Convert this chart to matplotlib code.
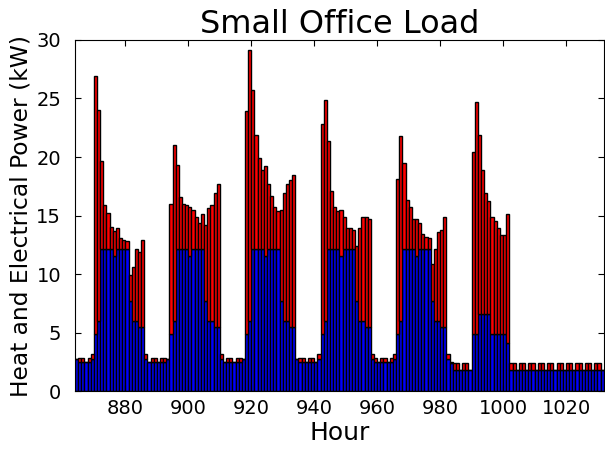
import numpy as np
import matplotlib
matplotlib.use("Agg")
import matplotlib.pyplot as plt

# Hourly loads for one week of the small office (hours 864-1031)
hours = np.arange(864, 1032)

electric_kw = [
    # day 1
    2.7, 2.5, 2.5, 2.5, 2.5, 2.7, 4.9, 6.0, 12.1, 12.1, 12.1, 12.1,
    11.5, 12.1, 12.1, 12.1, 12.1, 7.7, 6.0, 6.0, 5.5, 5.5, 2.7, 2.5,
    # day 2
    2.5, 2.5, 2.5, 2.5, 2.5, 2.7, 4.9, 6.0, 12.1, 12.1, 12.1, 12.1,
    11.5, 12.1, 12.1, 12.1, 12.1, 7.7, 6.0, 6.0, 5.5, 5.5, 2.7, 2.5,
    # day 3
    2.5, 2.5, 2.5, 2.5, 2.5, 2.7, 4.9, 6.0, 12.1, 12.1, 12.1, 12.1,
    11.5, 12.1, 12.1, 12.1, 12.1, 7.7, 6.0, 6.0, 5.5, 5.5, 2.7, 2.5,
    # day 4
    2.5, 2.5, 2.5, 2.5, 2.5, 2.7, 4.9, 6.0, 12.1, 12.1, 12.1, 12.1,
    11.5, 12.1, 12.1, 12.1, 12.1, 7.7, 6.0, 6.0, 5.5, 5.5, 2.7, 2.5,
    # day 5
    2.5, 2.5, 2.5, 2.5, 2.5, 2.7, 4.9, 6.0, 12.1, 12.1, 12.1, 12.1,
    11.5, 12.1, 12.1, 12.1, 12.1, 7.7, 6.0, 6.0, 5.5, 5.5, 2.7, 2.4,
    # day 6
    1.8, 1.8, 1.8, 1.8, 1.8, 1.8, 4.9, 4.9, 6.6, 6.6, 6.6, 6.6,
    4.9, 4.9, 4.9, 4.9, 4.9, 4.1, 1.8, 1.8, 1.8, 1.8, 1.8, 1.8,
    # day 7
    1.8, 1.8, 1.8, 1.8, 1.8, 1.8, 1.8, 1.8, 1.8, 1.8, 1.8, 1.8,
    1.8, 1.8, 1.8, 1.8, 1.8, 1.8, 1.8, 1.8, 1.8, 1.8, 1.8, 1.8,
]

heat_kw = [
    # day 1
    0.0, 0.35, 0.35, 0.0, 0.35, 0.5, 22.0, 18.0, 7.6, 3.8, 3.1, 1.9,
    2.2, 1.8, 1.0, 0.8, 0.7, 2.2, 4.6, 6.1, 6.4, 7.4, 0.5, 0.0,
    # day 2
    0.35, 0.35, 0.0, 0.35, 0.35, 0.0, 11.1, 15.0, 7.2, 4.5, 3.9, 3.8,
    4.2, 3.4, 2.8, 2.3, 3.0, 6.5, 9.6, 9.9, 11.4, 12.2, 0.5, 0.0,
    # day 3
    0.35, 0.35, 0.0, 0.35, 0.35, 0.0, 19.0, 23.1, 13.6, 9.8, 7.8, 6.8,
    7.7, 5.6, 4.6, 3.6, 3.3, 7.8, 10.9, 11.7, 12.5, 13.0, 0.0, 0.35,
    # day 4
    0.35, 0.0, 0.35, 0.35, 0.0, 0.5, 17.9, 18.9, 9.3, 5.0, 3.6, 3.3,
    4.0, 2.8, 1.8, 1.8, 1.7, 4.7, 7.9, 8.9, 9.4, 9.2, 0.5, 0.35,
    # day 5
    0.0, 0.35, 0.35, 0.0, 0.35, 0.5, 13.2, 15.8, 7.4, 4.2, 3.6, 2.6,
    3.2, 2.3, 1.3, 1.1, 1.0, 3.2, 6.1, 7.6, 8.3, 9.4, 0.5, 0.1,
    # day 6
    0.57, 0.57, 0.0, 0.57, 0.57, 0.0, 15.5, 19.8, 15.3, 12.3, 10.3, 9.6,
    10.0, 9.6, 9.0, 8.4, 8.4, 11.0, 0.57, 0.57, 0.0, 0.57, 0.57, 0.0,
    # day 7
    0.57, 0.57, 0.0, 0.57, 0.57, 0.0, 0.57, 0.57, 0.0, 0.57, 0.57, 0.0,
    0.57, 0.57, 0.0, 0.57, 0.57, 0.0, 0.57, 0.57, 0.0, 0.57, 0.57, 0.0,
]

x_ticks = [880, 900, 920, 940, 960, 980, 1000, 1020]
y_ticks = [0, 5, 10, 15, 20, 25, 30]

plt.rcParams.update({
    "font.family": "DejaVu Sans",
    "xtick.direction": "in",
    "ytick.direction": "in",
    "xtick.top": True,
    "ytick.right": True,
    "xtick.major.size": 4,
    "ytick.major.size": 4,
    "xtick.major.pad": 6,
    "ytick.major.pad": 10,
})

fig = plt.figure(figsize=(6.05, 4.49), dpi=100, facecolor="white")
ax = fig.add_axes([0.124, 0.129, 0.874, 0.782])

ax.bar(hours, electric_kw, width=1.0, align="edge", color="#0000ff",
       edgecolor="black", linewidth=1.0)
ax.bar(hours, heat_kw, width=1.0, align="edge", bottom=electric_kw,
       color="#ff0000", edgecolor="black", linewidth=1.0)

ax.set_xlim(864, 1032)
ax.set_ylim(0, 30)
ax.set_xticks(x_ticks)
ax.set_yticks(y_ticks)
ax.tick_params(labelsize=14)

ax.set_title("Small Office Load", fontsize=23, pad=4)
ax.set_xlabel("Hour", fontsize=18, labelpad=2)
ax.set_ylabel("Heat and Electrical Power (kW)", fontsize=16.8, labelpad=3)

fig.savefig("out.png", dpi=100, facecolor="white")
